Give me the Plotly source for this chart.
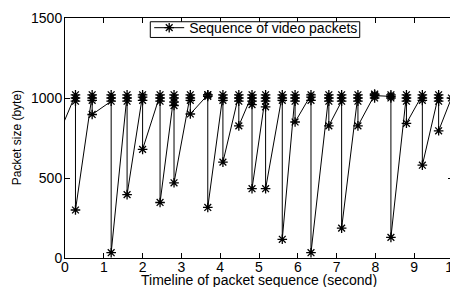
import plotly.graph_objects as go

# Frame timestamps (s) and packet sizes (bytes)
frame_times = [0.27, 0.70, 1.19, 1.60, 2.00, 2.45, 2.81, 3.23, 3.68, 4.07, 4.48, 4.82,
               5.17, 5.60, 5.93, 6.34, 6.80, 7.13, 7.55, 7.98, 8.40, 8.80, 9.21, 9.63]
frame_upper = [
    [1020, 1000, 980],
    [1020, 1000, 985],
    [980, 1020, 1000],
    [1020, 1000, 980],
    [1020, 1005, 985],
    [1020, 1000, 980],
    [1020, 1000, 975, 953],
    [1020, 1000, 985],
    [1020, 1020, 1010],
    [1020, 1000, 985],
    [1020, 1000, 980],
    [1020, 1000, 980, 959],
    [1020, 1000, 980, 945],
    [1020, 1000, 985],
    [1020, 1000, 980],
    [1020, 1005, 985],
    [1020, 1000, 980],
    [980, 1020, 1000],
    [1020, 1000, 980],
    [1020, 1025, 1000],
    [1010, 1020, 1000],
    [1020, 1000, 980],
    [1020, 1000, 985],
    [1020, 1000, 980],
]
frame_last = [300, 897, 33, 396, 679, 347, 470, 900, 316, 599, 826, 433,
              433, 117, 850, 33, 826, 187, 826, 1015, 129, 842, 580, 795]
lead_point = (-0.15, 780)
tail_point = (9.96, 1000)

x, y = [lead_point[0]], [lead_point[1]]
for t, up, lo in zip(frame_times, frame_upper, frame_last):
    for v in up + [lo]:
        x.append(t)
        y.append(v)
x.append(tail_point[0])
y.append(tail_point[1])

fig = go.Figure()
fig.add_trace(go.Scatter(
    x=x, y=y, mode="lines+markers", name="Sequence of video packets",
    line=dict(color="black", width=1),
    marker=dict(symbol="asterisk-open", size=8, color="black",
                line=dict(color="black", width=1.3)),
))

font = "Liberation Sans, Arial, Helvetica, sans-serif"
axis_common = dict(showline=True, linecolor="black", linewidth=1, mirror="ticks",
                   ticks="inside", ticklen=5, tickcolor="black", showgrid=False,
                   zeroline=False, tickfont=dict(size=14, color="black"),
                   automargin=False, ticklabeloverflow="allow")
fig.update_layout(
    width=450, height=279,
    margin=dict(l=56.5, r=4.5, t=5.5, b=29.3),
    paper_bgcolor="white", plot_bgcolor="white",
    font=dict(family=font, size=14, color="black"),
    xaxis=dict(range=[0, 10], dtick=1, tick0=0, ticklabelstandoff=-4, **axis_common),
    yaxis=dict(range=[0, 1500], dtick=500, tick0=0, ticklabelstandoff=-1, **axis_common),
    showlegend=True,
    legend=dict(x=0.217, y=0.958, xanchor="left", yanchor="middle",
                borderwidth=0, bgcolor="rgba(0,0,0,0)",
                font=dict(size=14), itemwidth=30, tracegroupgap=0),
    shapes=[
        dict(type="rect", xref="paper", yref="paper", x0=0.2198, x1=0.7596,
             y0=0.9189, y1=0.9844, line=dict(color="black", width=1),
             fillcolor="white", layer="above"),
    ],
    annotations=[
        dict(text="Timeline of packet sequence (second)", xref="paper", yref="paper",
             x=0.5, y=-0.09, xanchor="center", yanchor="middle", showarrow=False,
             font=dict(size=14)),
        dict(text="Packet size (byte)", xref="paper", yref="paper", textangle=-90,
             x=-0.123, y=0.5, xanchor="center", yanchor="middle", showarrow=False,
             font=dict(size=12)),
    ],
)
fig.write_html("out.html")
